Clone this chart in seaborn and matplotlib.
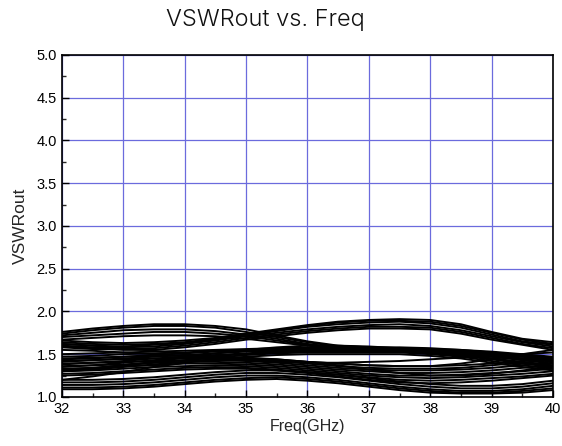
import pandas as pd
import matplotlib
matplotlib.use("Agg")
import matplotlib.pyplot as plt
import seaborn as sns
from matplotlib.ticker import MultipleLocator, FormatStrFormatter

# frequency points (GHz)
freq = [32, 32.5, 33, 33.5, 34, 34.5, 35, 35.5, 36, 36.5, 37, 37.5, 38, 38.5, 39, 39.5, 40]

# upper group, high at the left end
vswr_a = [
    [1.76, 1.80, 1.83, 1.85, 1.85, 1.83, 1.79, 1.72, 1.65, 1.60, 1.58, 1.57, 1.56, 1.55, 1.53, 1.50, 1.47],
    [1.74, 1.78, 1.81, 1.83, 1.83, 1.81, 1.76, 1.70, 1.64, 1.59, 1.57, 1.56, 1.55, 1.53, 1.51, 1.48, 1.45],
    [1.72, 1.75, 1.78, 1.79, 1.79, 1.77, 1.73, 1.68, 1.62, 1.58, 1.56, 1.55, 1.54, 1.52, 1.50, 1.47, 1.44],
    [1.70, 1.72, 1.74, 1.76, 1.76, 1.74, 1.71, 1.66, 1.61, 1.57, 1.55, 1.54, 1.53, 1.51, 1.48, 1.45, 1.43],
    [1.67, 1.69, 1.71, 1.72, 1.72, 1.71, 1.68, 1.64, 1.60, 1.56, 1.54, 1.53, 1.52, 1.50, 1.47, 1.44, 1.42],
]
# group peaking around 37-38 GHz
vswr_b = [
    [1.66, 1.64, 1.63, 1.64, 1.66, 1.69, 1.74, 1.79, 1.84, 1.88, 1.90, 1.91, 1.90, 1.85, 1.76, 1.68, 1.64],
    [1.64, 1.62, 1.61, 1.62, 1.64, 1.68, 1.73, 1.78, 1.83, 1.87, 1.89, 1.89, 1.88, 1.83, 1.75, 1.67, 1.62],
    [1.62, 1.60, 1.59, 1.61, 1.63, 1.67, 1.72, 1.77, 1.82, 1.85, 1.87, 1.88, 1.86, 1.81, 1.73, 1.65, 1.61],
    [1.60, 1.58, 1.58, 1.59, 1.62, 1.66, 1.71, 1.75, 1.79, 1.82, 1.84, 1.85, 1.83, 1.78, 1.71, 1.64, 1.59],
    [1.58, 1.56, 1.56, 1.57, 1.60, 1.64, 1.69, 1.73, 1.77, 1.80, 1.82, 1.82, 1.81, 1.76, 1.69, 1.62, 1.57],
    [1.59, 1.57, 1.55, 1.55, 1.58, 1.62, 1.67, 1.71, 1.75, 1.78, 1.80, 1.80, 1.79, 1.74, 1.67, 1.61, 1.55],
]
# middle band
vswr_c = [
    [1.50, 1.51, 1.52, 1.53, 1.54, 1.55, 1.56, 1.57, 1.58, 1.58, 1.58, 1.58, 1.57, 1.55, 1.52, 1.49, 1.46],
    [1.47, 1.48, 1.50, 1.51, 1.52, 1.54, 1.55, 1.56, 1.57, 1.57, 1.57, 1.57, 1.56, 1.54, 1.51, 1.47, 1.44],
    [1.44, 1.45, 1.47, 1.49, 1.51, 1.53, 1.54, 1.55, 1.56, 1.56, 1.56, 1.56, 1.55, 1.53, 1.49, 1.45, 1.41],
    [1.41, 1.43, 1.45, 1.47, 1.49, 1.51, 1.53, 1.54, 1.55, 1.55, 1.55, 1.55, 1.54, 1.51, 1.47, 1.43, 1.39],
    [1.38, 1.40, 1.42, 1.45, 1.47, 1.49, 1.51, 1.53, 1.54, 1.54, 1.54, 1.54, 1.52, 1.49, 1.45, 1.41, 1.37],
    [1.35, 1.37, 1.40, 1.43, 1.46, 1.48, 1.50, 1.52, 1.53, 1.53, 1.53, 1.53, 1.51, 1.48, 1.44, 1.39, 1.35],
    [1.32, 1.34, 1.37, 1.40, 1.43, 1.46, 1.49, 1.51, 1.52, 1.52, 1.52, 1.52, 1.50, 1.47, 1.42, 1.37, 1.33],
    [1.30, 1.32, 1.35, 1.38, 1.41, 1.44, 1.47, 1.49, 1.50, 1.50, 1.50, 1.50, 1.48, 1.45, 1.40, 1.35, 1.31],
]
# lower-middle band
vswr_d = [
    [1.45, 1.46, 1.47, 1.48, 1.48, 1.47, 1.46, 1.44, 1.41, 1.39, 1.37, 1.36, 1.36, 1.37, 1.39, 1.42, 1.45],
    [1.42, 1.43, 1.44, 1.45, 1.45, 1.45, 1.44, 1.42, 1.39, 1.36, 1.34, 1.33, 1.33, 1.34, 1.37, 1.40, 1.43],
    [1.39, 1.40, 1.41, 1.42, 1.43, 1.43, 1.42, 1.40, 1.37, 1.34, 1.32, 1.31, 1.31, 1.32, 1.34, 1.37, 1.40],
    [1.36, 1.37, 1.38, 1.40, 1.41, 1.41, 1.40, 1.38, 1.35, 1.32, 1.30, 1.28, 1.28, 1.29, 1.31, 1.34, 1.37],
    [1.33, 1.34, 1.36, 1.37, 1.39, 1.39, 1.38, 1.36, 1.33, 1.30, 1.27, 1.25, 1.25, 1.26, 1.28, 1.30, 1.33],
    [1.30, 1.31, 1.33, 1.35, 1.36, 1.37, 1.36, 1.34, 1.31, 1.28, 1.25, 1.23, 1.22, 1.23, 1.25, 1.27, 1.30],
    [1.27, 1.28, 1.30, 1.32, 1.34, 1.35, 1.34, 1.32, 1.29, 1.26, 1.23, 1.20, 1.19, 1.20, 1.22, 1.24, 1.27],
    [1.25, 1.26, 1.28, 1.30, 1.32, 1.33, 1.33, 1.31, 1.28, 1.24, 1.20, 1.17, 1.16, 1.17, 1.19, 1.22, 1.25],
]
# lowest group
vswr_e = [
    [1.20, 1.20, 1.21, 1.23, 1.26, 1.29, 1.31, 1.31, 1.29, 1.26, 1.22, 1.18, 1.15, 1.13, 1.13, 1.15, 1.19],
    [1.17, 1.17, 1.18, 1.20, 1.23, 1.26, 1.28, 1.28, 1.26, 1.23, 1.19, 1.15, 1.12, 1.10, 1.10, 1.12, 1.16],
    [1.14, 1.14, 1.15, 1.17, 1.20, 1.23, 1.25, 1.25, 1.23, 1.20, 1.16, 1.12, 1.09, 1.07, 1.07, 1.09, 1.13],
    [1.11, 1.11, 1.12, 1.14, 1.17, 1.20, 1.22, 1.23, 1.21, 1.18, 1.14, 1.10, 1.07, 1.05, 1.05, 1.07, 1.10],
    [1.09, 1.09, 1.10, 1.12, 1.15, 1.18, 1.20, 1.21, 1.19, 1.16, 1.12, 1.08, 1.05, 1.04, 1.04, 1.05, 1.08],
]
# curves that cross the bands
vswr_f = [
    [1.30, 1.33, 1.37, 1.41, 1.46, 1.51, 1.55, 1.58, 1.60, 1.60, 1.59, 1.57, 1.54, 1.50, 1.45, 1.40, 1.36],
    [1.55, 1.54, 1.52, 1.50, 1.48, 1.45, 1.43, 1.41, 1.40, 1.40, 1.41, 1.42, 1.44, 1.46, 1.48, 1.50, 1.52],
    [1.20, 1.24, 1.29, 1.35, 1.40, 1.44, 1.45, 1.44, 1.41, 1.37, 1.32, 1.28, 1.25, 1.25, 1.27, 1.31, 1.35],
    [1.62, 1.60, 1.57, 1.54, 1.50, 1.47, 1.45, 1.43, 1.41, 1.39, 1.37, 1.36, 1.36, 1.39, 1.44, 1.50, 1.55],
]

curves = vswr_a + vswr_b + vswr_c + vswr_d + vswr_e + vswr_f
rows = []
for i, vals in enumerate(curves):
    for f, v in zip(freq, vals):
        rows.append({"curve": i, "Freq": f, "VSWRout": v})
df = pd.DataFrame(rows)

sns.set_style("white")
plt.rcParams["font.family"] = ["Liberation Sans", "DejaVu Sans"]

fig = plt.figure(figsize=(5.62, 4.46), dpi=100)
ax = fig.add_axes([0.110, 0.110, 0.874, 0.767])

sns.lineplot(data=df, x="Freq", y="VSWRout", units="curve", estimator=None,
             color="black", linewidth=1.4, ax=ax)

ax.set_xlim(32, 40)
ax.set_ylim(1.0, 5.0)
ax.xaxis.set_major_locator(MultipleLocator(1))
ax.xaxis.set_minor_locator(MultipleLocator(0.5))
ax.yaxis.set_major_locator(MultipleLocator(0.5))
ax.yaxis.set_minor_locator(MultipleLocator(0.25))
ax.yaxis.set_major_formatter(FormatStrFormatter("%.1f"))
ax.grid(True, which="major", color="#6b6bdd", linewidth=0.9)
ax.set_axisbelow(True)
ax.tick_params(which="major", direction="in", length=5, width=1, labelsize=10.5, colors="black")
ax.tick_params(which="minor", direction="in", length=3, width=1)
ax.tick_params(bottom=True, left=True, which="both")
for s in ax.spines.values():
    s.set_color("black")
    s.set_linewidth(1.2)

ax.set_xlabel("Freq(GHz)", fontsize=11.5, labelpad=2)
ax.set_ylabel("VSWRout", fontsize=12.5, labelpad=6)
fig.text(0.472, 0.955, "VSWRout vs. Freq", ha="center", va="center", fontsize=17,
         family=["Inter", "DejaVu Sans"], fontweight=300, color="#111111")

fig.savefig("out.png", dpi=100)
